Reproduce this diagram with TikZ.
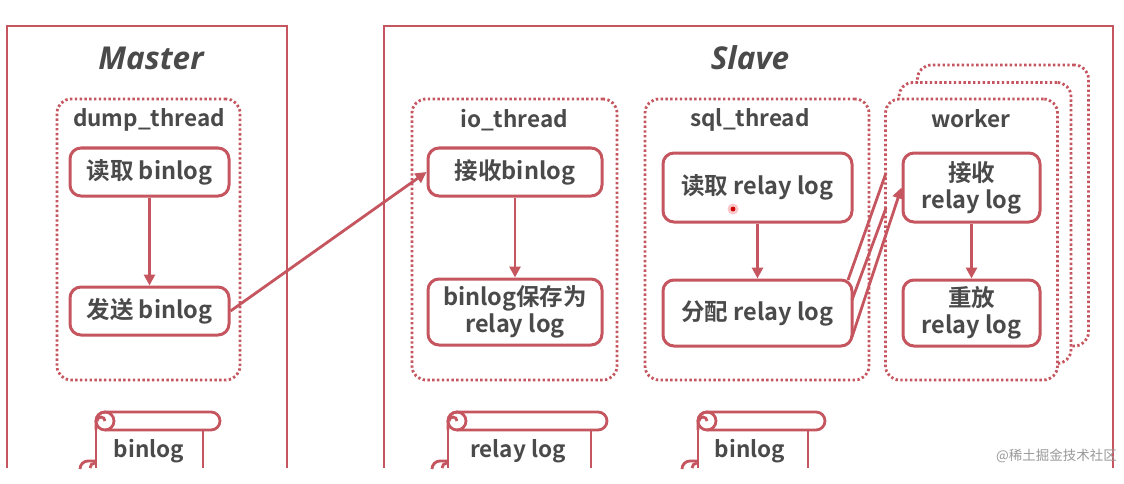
\documentclass[tikz,border=0pt]{standalone}
\usepackage{fontspec}
\setmainfont{Noto Sans CJK SC}[BoldFont={Noto Sans CJK SC Bold}]
\newfontfamily\titlefont{Open Sans}[BoldItalicFont={Open Sans Bold Italic},BoldFont={Open Sans Bold}]
\usetikzlibrary{arrows.meta,calc}
\definecolor{rd}{HTML}{C5565F}
\definecolor{tx}{HTML}{4A4A4A}
\tikzset{
  frameline/.style={draw=rd,line width=2.8pt},
  dotbox/.style={draw=rd,fill=white,line width=2.8pt,rounded corners=14pt,dash pattern=on 2.4pt off 2.4pt,inner sep=0pt},
  stepbox/.style={draw=rd,fill=white,line width=3pt,rounded corners=11pt,inner sep=0pt,align=center,text=tx,font=\fontsize{23.5}{27}\selectfont\bfseries},
  lab/.style={text=tx,inner sep=0pt,font=\fontsize{22.5}{27}\selectfont\bfseries},
  titlelab/.style={text=tx,inner sep=0pt,font=\titlefont\fontsize{31.5}{36}\selectfont\bfseries\itshape},
  arrowline/.style={draw=rd,line width=2.8pt,-{Triangle[length=11pt,width=11pt]}},
  plainline/.style={draw=rd,line width=2.8pt},
  scrollline/.style={draw=rd,line width=2.8pt}
}
\newcommand{\scrollshape}[3]{% left, bar right, body right
  \draw[scrollline,rounded corners=9pt] (#1,430) -- (#1,412) -- (#2,412) -- (#2,430) -- (#1+9,430);
  \draw[scrollline] (#1+9,430) arc[start angle=270,end angle=90,radius=9pt];
  \draw[scrollline] (#1+9,412) arc[start angle=90,end angle=-90,radius=9pt];
  \draw[scrollline] (#1+9,421) arc[start angle=0,end angle=180,radius=4pt];
  \draw[scrollline] (#1,421) -- (#1,468);
  \draw[scrollline] (#3,430) -- (#3,468);
  \draw[scrollline] (#1,461) -- (#1-8,461) arc[start angle=90,end angle=180,radius=8pt];
  \draw[scrollline] (#1-6,468) arc[start angle=180,end angle=90,radius=5pt];
}
\begin{document}
\begin{tikzpicture}[x=1pt,y=-1pt]
\useasboundingbox (0,0) rectangle (1124,484);
\fill[white] (0,0) rectangle (1124,484);
% frames
\draw[frameline] (7,468) -- (7,26) -- (287,26) -- (287,468);
\draw[frameline] (384,468) -- (384,26) -- (1113,26) -- (1113,468);
\node[titlelab] (master) at (151,58) {Master};
\node[titlelab] (slave) at (750,58) {Slave};
% dotted containers
\node[dotbox,minimum width=183pt,minimum height=281pt] (dump) at (148.5,239.5) {};
\node[dotbox,minimum width=205pt,minimum height=281pt] (io) at (514.5,239.5) {};
\node[dotbox,minimum width=224pt,minimum height=281pt] (sql) at (757,239.5) {};
\node[dotbox,minimum width=171pt,minimum height=281pt] (w3) at (1003,205.5) {};
\node[dotbox,minimum width=172pt,minimum height=281pt] (w2) at (985,223) {};
\node[dotbox,minimum width=172pt,minimum height=281pt] (w1) at (971.5,239.5) {};
\node[lab] (dumpl) at (149,120) {dump\_thread};
\node[lab] (iol) at (514,120) {io\_thread};
\node[lab] (sqll) at (750,120) {sql\_thread};
\node[lab] (wl) at (971,119) {worker};
% steps
\node[stepbox,minimum width=159pt,minimum height=48pt] (a1) at (149.5,172) {读取 binlog};
\node[stepbox,minimum width=159pt,minimum height=48pt] (a2) at (149.5,311) {发送 binlog};
\node[stepbox,minimum width=174pt,minimum height=48pt] (b1) at (515,172) {接收binlog};
\node[stepbox,minimum width=174pt,minimum height=66pt] (b2) at (515,312) {binlog保存为\\relay log};
\node[stepbox,minimum width=189pt,minimum height=69pt] (c1) at (757.5,187.5) {读取 relay log};
\node[stepbox,minimum width=189pt,minimum height=66pt] (c2) at (757.5,313) {分配 relay log};
\node[stepbox,minimum width=137pt,minimum height=69pt] (d1) at (971.5,187.5) {接收\\relay log};
\node[stepbox,minimum width=137pt,minimum height=66pt] (d2) at (971.5,313) {重放\\relay log};
% connectors
\draw[arrowline] (a1) -- (a2);
\draw[arrowline] (b1) -- (b2);
\draw[arrowline] (c1) -- (c2);
\draw[arrowline] (d1) -- (d2);
\draw[arrowline] (a2.east) -- (b1.west);
\coordinate (s1) at (848,280);
\coordinate (s2) at (852,300);
\coordinate (s3) at (852,337);
\coordinate (e1) at (886,173);
\coordinate (e2) at (886,208);
\draw[plainline] (s1) -- (e1);
\draw[plainline] (s2) -- (e2);
\draw[arrowline] (s3) -- (d1.west);
% pointer dot
\fill[red!70!rd,opacity=.25] (733,209) circle[radius=5.5pt];
\fill[red!80!black] (733,209) circle[radius=2.4pt];
% scrolls
\scrollshape{96}{220}{203}
\scrollshape{448}{607}{591}
\scrollshape{698}{825}{808}
\node[lab] (s1l) at (149,451) {binlog};
\node[lab] (s2l) at (518,451) {relay log};
\node[lab] (s3l) at (750,451) {binlog};
% watermark
\node[text=black!40,inner sep=0pt,anchor=east,font=\fontsize{13.5}{16}\selectfont] (wm) at (1117,456) {@稀土掘金技术社区};
\end{tikzpicture}
\end{document}
